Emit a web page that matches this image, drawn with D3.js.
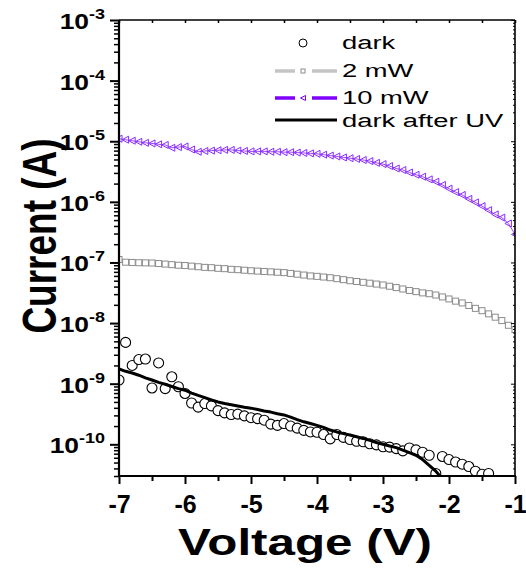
<!DOCTYPE html>
<html><head><meta charset="utf-8">
<script src="https://cdn.jsdelivr.net/npm/d3@7"></script>
<style>body{margin:0;background:#fff}svg{display:block}</style>
</head><body>
<svg id="c" width="526" height="570"></svg>
<script>
// ---------- data ----------
const voltage = [-7.0,-6.9,-6.8,-6.7,-6.6,-6.5,-6.4,-6.3,-6.2,-6.1,-6.0,-5.9,-5.8,-5.7,-5.6,-5.5,-5.4,-5.3,-5.2,-5.1,
  -5.0,-4.9,-4.8,-4.7,-4.6,-4.5,-4.4,-4.3,-4.2,-4.1,-4.0,-3.9,-3.8,-3.7,-3.6,-3.5,-3.4,-3.3,-3.2,-3.1,
  -3.0,-2.9,-2.8,-2.7,-2.6,-2.5,-2.4,-2.3,-2.2,-2.1,-2.0,-1.9,-1.8,-1.7,-1.6,-1.5,-1.4,-1.3,-1.2,-1.1,-1.0];

const dark = [1.15e-9,4.8e-9,2.0e-9,2.5e-9,2.55e-9,8.5e-10,2.2e-9,8.3e-10,1.3e-9,8.9e-10,
  6.9e-10,4.8e-10,4.1e-10,4.7e-10,4.3e-10,3.6e-10,3.3e-10,3.1e-10,3.15e-10,2.95e-10,
  2.75e-10,2.65e-10,2.5e-10,2.15e-10,2.05e-10,2.2e-10,2.0e-10,1.85e-10,1.7e-10,1.6e-10,
  1.58e-10,1.45e-10,1.23e-10,1.45e-10,1.3e-10,1.2e-10,1.12e-10,1.1e-10,1.02e-10,9.8e-11,
  9.1e-11,9.0e-11,8.5e-11,7.8e-11,8.7e-11,8.1e-11,7.4e-11,6.6e-11,3.3e-11,6.3e-11,
  5.6e-11,5.1e-11,4.7e-11,4.3e-11,3.6e-11,3.2e-11,3.3e-11,2.4e-11];

const mw2 = [1.12e-7,1.01e-7,1.0e-7,9.9e-8,9.85e-8,9.8e-8,9.6e-8,9.4e-8,9.2e-8,9.0e-8,
  8.9e-8,8.7e-8,8.5e-8,8.3e-8,8.2e-8,8.0e-8,7.9e-8,7.7e-8,7.6e-8,7.45e-8,
  7.3e-8,7.2e-8,7.1e-8,7.0e-8,6.9e-8,6.8e-8,6.6e-8,6.4e-8,6.2e-8,6.0e-8,
  5.9e-8,5.75e-8,5.6e-8,5.4e-8,5.2e-8,5.0e-8,4.85e-8,4.7e-8,4.55e-8,4.4e-8,
  4.25e-8,4.05e-8,3.85e-8,3.65e-8,3.45e-8,3.3e-8,3.15e-8,3.05e-8,2.9e-8,2.7e-8,
  2.5e-8,2.3e-8,2.15e-8,1.95e-8,1.75e-8,1.6e-8,1.42e-8,1.25e-8,1.1e-8,9.2e-9,7.8e-9];

const mw10 = [1.10e-5,1.06e-5,1.02e-5,9.8e-6,9.4e-6,9.2e-6,8.9e-6,8.7e-6,7.8e-6,8.0e-6,
  8.2e-6,7.3e-6,6.7e-6,6.9e-6,7.0e-6,7.1e-6,7.2e-6,7.2e-6,7.0e-6,6.9e-6,
  6.8e-6,6.8e-6,6.8e-6,6.7e-6,6.7e-6,6.6e-6,6.6e-6,6.5e-6,6.4e-6,6.3e-6,
  6.2e-6,6.0e-6,5.8e-6,5.6e-6,5.4e-6,5.25e-6,5.1e-6,4.9e-6,4.7e-6,4.4e-6,
  4.2e-6,3.9e-6,3.55e-6,3.35e-6,3.05e-6,2.8e-6,2.6e-6,2.35e-6,2.15e-6,1.9e-6,
  1.65e-6,1.45e-6,1.3e-6,1.12e-6,9.8e-7,8.5e-7,7.3e-7,6.2e-7,5.5e-7,4.4e-7,2.9e-7];

const darkAfterUV = [1.75e-9,1.6e-9,1.5e-9,1.38e-9,1.25e-9,1.15e-9,1.05e-9,9.8e-10,9.0e-10,8.3e-10,
  7.8e-10,7.0e-10,6.4e-10,5.9e-10,5.4e-10,5.0e-10,4.7e-10,4.5e-10,4.3e-10,4.1e-10,
  3.95e-10,3.75e-10,3.55e-10,3.4e-10,3.2e-10,3.05e-10,2.8e-10,2.55e-10,2.35e-10,2.2e-10,
  2.05e-10,1.9e-10,1.72e-10,1.6e-10,1.5e-10,1.42e-10,1.33e-10,1.25e-10,1.16e-10,1.07e-10,
  1.0e-10,9.4e-11,8.8e-11,8.0e-11,7.3e-11,6.6e-11,5.6e-11,4.5e-11,3.6e-11,2.7e-11,2.0e-11];

const xTicks = [-7,-6,-5,-4,-3,-2,-1];
const xMinorTicks = [-6.5,-5.5,-4.5,-3.5,-2.5,-1.5];
const yDecades = [-3,-4,-5,-6,-7,-8,-9,-10];
const legendLabels = ["dark","2 mW","10 mW","dark after UV"];

// ---------- layout ----------
const svg = d3.select("#c");
const L = 119, R = 515, T = 20, B = 476;
const FONT = "'Liberation Sans', Arial, Helvetica, sans-serif";
const x = d3.scaleLinear().domain([-7,-1]).range([L,R]);
const y = d3.scaleLog().domain([3e-11,1e-3]).range([B,T]);

const pts = arr => arr.map((v,i)=>({v:voltage[i], c:v}));

svg.append("defs").append("clipPath").attr("id","clip")
  .append("rect").attr("x",L).attr("y",T).attr("width",R-L).attr("height",B-T);

const plot = svg.append("g").attr("clip-path","url(#clip)");
const line = d3.line().x(d=>x(d.v)).y(d=>y(d.c));

// dark circles
plot.append("g").selectAll("circle").data(pts(dark)).join("circle")
  .attr("cx",d=>x(d.v)).attr("cy",d=>y(d.c)).attr("r",5)
  .attr("fill","#fff").attr("stroke","#000").attr("stroke-width",1.1);

// 2 mW
plot.append("path").datum(pts(mw2)).attr("d",line)
  .attr("fill","none").attr("stroke","#c4c4c4").attr("stroke-width",1.5);
plot.append("g").selectAll("rect").data(pts(mw2)).join("rect")
  .attr("x",d=>x(d.v)-3).attr("y",d=>y(d.c)-3).attr("width",6).attr("height",6)
  .attr("fill","#fff").attr("stroke","#8c8c8c").attr("stroke-width",1);

// 10 mW
plot.append("path").datum(pts(mw10)).attr("d",line)
  .attr("fill","none").attr("stroke","#9b45ff").attr("stroke-width",1);
const tri = "M-3.5,0L3,-3.5L3,3.5Z";
plot.append("g").selectAll("path").data(pts(mw10)).join("path")
  .attr("d",tri).attr("transform",d=>`translate(${x(d.v)},${y(d.c)})`)
  .attr("fill","none").attr("stroke","#8a2bff").attr("stroke-width",1);

// dark after UV
plot.append("path").datum(pts(darkAfterUV)).attr("d",line)
  .attr("fill","none").attr("stroke","#000").attr("stroke-width",3).attr("stroke-linejoin","round");

// ---------- axes ----------
const minorY = [];
for (let d=-11; d<=-4; d++) for (let k=2;k<=9;k++){ const v=k*Math.pow(10,d); if(v>=3e-11 && v<=1e-3) minorY.push(v); }
const majorY = yDecades.map(d=>Math.pow(10,d));

const ax = svg.append("g").attr("font-family",FONT);
// left axis
ax.append("g").attr("transform",`translate(${L},0)`)
  .call(d3.axisLeft(y).tickValues(minorY).tickSize(5).tickFormat(""))
  .call(g=>g.select(".domain").remove())
  .call(g=>g.selectAll("line").attr("stroke-width",1.5));
ax.append("g").attr("transform",`translate(${L},0)`)
  .call(d3.axisLeft(y).tickValues(majorY).tickSize(9).tickFormat(""))
  .call(g=>g.select(".domain").remove())
  .call(g=>g.selectAll("line").attr("stroke-width",2));
// right axis (inward)
ax.append("g").attr("transform",`translate(${R},0)`)
  .call(d3.axisLeft(y).tickValues(minorY).tickSize(-0).tickSizeInner(2).tickFormat(""))
  .call(g=>g.select(".domain").remove());
ax.append("g").attr("transform",`translate(${R},0)`)
  .call(d3.axisLeft(y).tickValues(majorY).tickSizeInner(4).tickFormat(""))
  .call(g=>g.select(".domain").remove());
// bottom axis
ax.append("g").attr("transform",`translate(0,${B})`)
  .call(d3.axisBottom(x).tickValues(xMinorTicks).tickSize(5).tickFormat(""))
  .call(g=>g.select(".domain").remove())
  .call(g=>g.selectAll("line").attr("stroke-width",2));
ax.append("g").attr("transform",`translate(0,${B})`)
  .call(d3.axisBottom(x).tickValues(xTicks).tickSize(8).tickPadding(11).tickFormat(d=>String(d)))
  .call(g=>g.select(".domain").remove())
  .call(g=>g.selectAll("line").attr("stroke-width",2))
  .call(g=>g.selectAll("text").attr("font-size",25).attr("font-weight","bold").attr("fill","#000").attr("font-family",FONT));
// top axis (inward)
ax.append("g").attr("transform",`translate(0,${T})`)
  .call(d3.axisBottom(x).tickValues(xTicks.concat(xMinorTicks)).tickSize(3).tickFormat(""))
  .call(g=>g.select(".domain").remove())
  .call(g=>g.selectAll("line").attr("stroke-width",1.5));

// frame
svg.append("line").attr("x1",L).attr("x2",L).attr("y1",T).attr("y2",B+1).attr("stroke","#000").attr("stroke-width",2.2);
svg.append("line").attr("x1",L-1).attr("x2",R+1).attr("y1",B).attr("y2",B).attr("stroke","#000").attr("stroke-width",2.2);
svg.append("line").attr("x1",L).attr("x2",R).attr("y1",T).attr("y2",T).attr("stroke","#000").attr("stroke-width",1.6);
svg.append("line").attr("x1",R).attr("x2",R).attr("y1",T).attr("y2",B).attr("stroke","#000").attr("stroke-width",1.6);

// y tick labels with superscripts
yDecades.forEach(d=>{
  const t = svg.append("text")
    .attr("transform",`translate(105,${y(Math.pow(10,d))+9}) scale(1.2,1)`)
    .attr("text-anchor","end").attr("font-family",FONT).attr("font-weight","bold");
  t.append("tspan").attr("font-size",22).text("10");
  t.append("tspan").attr("font-size",15).attr("dy",-10).text(String(d));
});

// axis titles
svg.append("text").attr("x",(L+R)/2-12).attr("y",555)
  .attr("text-anchor","middle").attr("font-family",FONT).attr("font-weight","bold")
  .attr("font-size",37).attr("textLength",254).attr("lengthAdjust","spacingAndGlyphs")
  .text("Voltage (V)");
svg.append("text").attr("transform",`translate(56,236) scale(1.3,1) rotate(-90)`)
  .attr("text-anchor","middle").attr("font-family",FONT).attr("font-weight","bold")
  .attr("font-size",37).text("Current (A)");

// ---------- legend ----------
const lg = svg.append("g").attr("font-family",FONT);
lg.append("rect").attr("x",268).attr("y",24).attr("width",244).attr("height",112).attr("fill","#fff");
const rowsY = [43, 71, 98, 120];
const baseY = [48.5, 77, 104, 127];
// dark
lg.append("circle").attr("cx",303).attr("cy",rowsY[0]).attr("r",4).attr("fill","#fff").attr("stroke","#000").attr("stroke-width",1);
// 2 mW
[[275,295],[312,337]].forEach(s=>lg.append("line").attr("x1",s[0]).attr("x2",s[1]).attr("y1",rowsY[1]).attr("y2",rowsY[1]).attr("stroke","#c4c4c4").attr("stroke-width",3.5));
lg.append("rect").attr("x",301).attr("y",rowsY[1]-2).attr("width",4).attr("height",4).attr("fill","#fff").attr("stroke","#8c8c8c").attr("stroke-width",1);
// 10 mW
[[275,295],[312,337]].forEach(s=>lg.append("line").attr("x1",s[0]).attr("x2",s[1]).attr("y1",rowsY[2]).attr("y2",rowsY[2]).attr("stroke","#7f00ff").attr("stroke-width",3.5));
lg.append("path").attr("d","M-2.5,0L2.5,-2.5L2.5,2.5Z").attr("transform",`translate(303,${rowsY[2]})`).attr("fill","#fff").attr("stroke","#7f00ff").attr("stroke-width",1);
// dark after UV
lg.append("line").attr("x1",275).attr("x2",337).attr("y1",rowsY[3]).attr("y2",rowsY[3]).attr("stroke","#000").attr("stroke-width",3);
legendLabels.forEach((s,i)=>{
  lg.append("text").attr("transform",`translate(342,${baseY[i]}) scale(1.44,1)`)
    .attr("font-size",19).attr("fill","#000").text(s);
});
</script>
</body></html>
